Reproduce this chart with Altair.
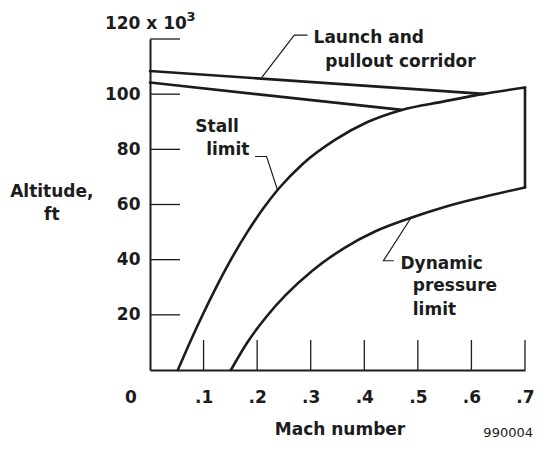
import altair as alt
import pandas as pd

# ---- data ----
stall_mach = [0.052, 0.074, 0.099, 0.123, 0.151, 0.181, 0.212, 0.240, 0.285, 0.346, 0.406, 0.470, 0.547, 0.623, 0.700]
stall_alt = [0.0, 9.8, 20.3, 29.8, 40.0, 49.8, 58.7, 65.7, 74.7, 83.5, 89.9, 94.3, 97.3, 100.1, 102.4]

dyn_mach = [0.151, 0.181, 0.218, 0.254, 0.303, 0.364, 0.420, 0.486, 0.553, 0.626, 0.700]
dyn_alt = [0.0, 9.8, 19.5, 27.3, 36.0, 44.4, 50.2, 55.1, 59.3, 62.9, 66.2]

edge_mach = [0.700, 0.700]
edge_alt = [102.4, 66.2]

upper_mach = [0.0, 0.623]
upper_alt = [108.4, 100.1]
lower_mach = [0.0, 0.470]
lower_alt = [104.2, 94.3]

x_ticks = [0.1, 0.2, 0.3, 0.4, 0.5, 0.6, 0.7]
y_ticks = [20, 40, 60, 80, 100, 120]
y_labels = [20, 40, 60, 80, 100]

# annotation leader lines (data coords)
lead_launch_x = [0.2084, 0.2693, 0.2938]
lead_launch_y = [106.0, 121.4, 121.4]
lead_stall_x = [0.1962, 0.2176, 0.2380]
lead_stall_y = [77.4, 77.4, 65.3]
lead_dyn_x = [0.4552, 0.4357, 0.4870]
lead_dyn_y = [39.6, 39.6, 55.1]

ann_text = ["Launch and", "pullout corridor", "Stall", "limit", "Dynamic", "pressure", "limit"]
ann_x = [0.3053, 0.3272, 0.0846, 0.1048, 0.4675, 0.4905, 0.4905]
ann_y = [118.4, 110.0, 86.4, 77.8, 36.7, 28.5, 20.1]

INK = "#1c1c1c"
FONT = "DejaVu Sans"
W, H = 375, 331

curves = pd.DataFrame({
    "mach": stall_mach + dyn_mach,
    "alt": stall_alt + dyn_alt,
    "s": ["stall"] * len(stall_mach) + ["dyn"] * len(dyn_mach),
})

straight = pd.DataFrame({
    "mach": edge_mach + upper_mach + lower_mach,
    "alt": edge_alt + upper_alt + lower_alt,
    "s": ["e"] * 2 + ["u"] * len(upper_mach) + ["l"] * len(lower_mach),
    "o": [0, 1] + list(range(len(upper_mach))) + list(range(len(lower_mach))),
})

leads = pd.DataFrame({
    "mach": lead_launch_x + lead_stall_x + lead_dyn_x,
    "alt": lead_launch_y + lead_stall_y + lead_dyn_y,
    "s": ["a"] * 3 + ["b"] * 3 + ["c"] * 3,
    "o": [0, 1, 2] * 3,
})

ann = pd.DataFrame({"t": ann_text, "mach": ann_x, "alt": ann_y})

xs = alt.Scale(domain=[0, 0.7], nice=False, zero=False)
ys = alt.Scale(domain=[0, 120], nice=False, zero=False)

x_axis = alt.Axis(
    values=x_ticks, labelExpr="substring(format(datum.value, '.1f'), 1)",
    ticks=False, tickSize=0, grid=False, domainColor=INK, domainWidth=2,
    labelFont=FONT, labelFontSize=17, labelFontWeight="bold", labelColor=INK,
    labelPadding=32, labelBaseline="alphabetic", labelFlush=False, labelOverlap=False,
    title="Mach number", titleFont=FONT, titleFontSize=17, titleFontWeight="bold",
    titleColor=INK, titleX=W / 2 + 2, titleY=64.3, titleBaseline="alphabetic", titleAlign="center",
)
y_axis = alt.Axis(
    values=y_labels, format="d",
    ticks=False, tickSize=0, grid=False, domainColor=INK, domainWidth=2,
    labelFont=FONT, labelFontSize=17, labelFontWeight="bold", labelColor=INK,
    labelPadding=10, labelFlush=False, labelOverlap=False,
    title=["Altitude,", "ft"], titleFont=FONT, titleFontSize=17, titleFontWeight="bold",
    titleColor=INK, titleAngle=0, titleX=-98.7, titleY=157, titleAlign="center",
    titleBaseline="alphabetic", titleLineHeight=23.3,
)

X = lambda f: alt.X(f, scale=xs, axis=x_axis)
Y = lambda f: alt.Y(f, scale=ys, axis=y_axis)

curve_line = alt.Chart(curves).mark_line(
    color=INK, strokeWidth=2.6, interpolate="monotone", strokeCap="round"
).encode(x=X("mach:Q"), y=Y("alt:Q"), detail="s:N")

straight_line = alt.Chart(straight).mark_line(
    color=INK, strokeWidth=2.6, strokeCap="round"
).encode(x=X("mach:Q"), y=Y("alt:Q"), detail="s:N", order="o:Q")

lead_line = alt.Chart(leads).mark_line(color=INK, strokeWidth=1.2).encode(
    x=X("mach:Q"), y=Y("alt:Q"), detail="s:N", order="o:Q",
)

ytick = alt.Chart(pd.DataFrame({"v": y_ticks})).mark_rule(color=INK, strokeWidth=1.3).encode(
    y=Y("v:Q"), x=alt.value(0), x2=alt.value(30),
)
xtick = alt.Chart(pd.DataFrame({"v": x_ticks})).mark_rule(color=INK, strokeWidth=1.3).encode(
    x=X("v:Q"), y=alt.value(H - 30), y2=alt.value(H),
)

ann_layer = alt.Chart(ann).mark_text(
    font=FONT, fontSize=17, fontWeight="bold", color=INK, align="left", baseline="alphabetic"
).encode(x=X("mach:Q"), y=Y("alt:Q"), text="t:N")

zero = alt.Chart(pd.DataFrame({"mach": [0.0], "alt": [0.0], "t": ["0"]})).mark_text(
    font=FONT, fontSize=17, fontWeight="bold", color=INK, align="center",
    baseline="alphabetic", dx=-19, dy=32.7
).encode(x=X("mach:Q"), y=Y("alt:Q"), text="t:N")

top_lbl = alt.Chart(pd.DataFrame({"mach": [-0.0841], "alt": [123.5], "t": ["120 x 10"]})).mark_text(
    font=FONT, fontSize=17, fontWeight="bold", color=INK, align="left", baseline="alphabetic"
).encode(x=X("mach:Q"), y=Y("alt:Q"), text="t:N")

sup = alt.Chart(pd.DataFrame({"mach": [0.0682], "alt": [126.6], "t": ["3"]})).mark_text(
    font=FONT, fontSize=13, fontWeight="bold", color=INK, align="left", baseline="alphabetic"
).encode(x=X("mach:Q"), y=Y("alt:Q"), text="t:N")

fig_id = alt.Chart(pd.DataFrame({"mach": [0.7], "alt": [0.0], "t": ["990004"]})).mark_text(
    font=FONT, fontSize=13, color=INK, align="right", baseline="alphabetic", dx=8, dy=67
).encode(x=X("mach:Q"), y=Y("alt:Q"), text="t:N")

chart = alt.layer(
    curve_line, straight_line, lead_line, ytick, xtick, ann_layer, zero, top_lbl, sup, fig_id
).properties(
    width=W, height=H,
    autosize=alt.AutoSizeParams(type="none"),
    padding={"left": 142, "top": 31, "right": 9, "bottom": 69},
).configure_view(stroke=None)

chart.save("out.html", embed_options={"renderer": "svg", "actions": False})
